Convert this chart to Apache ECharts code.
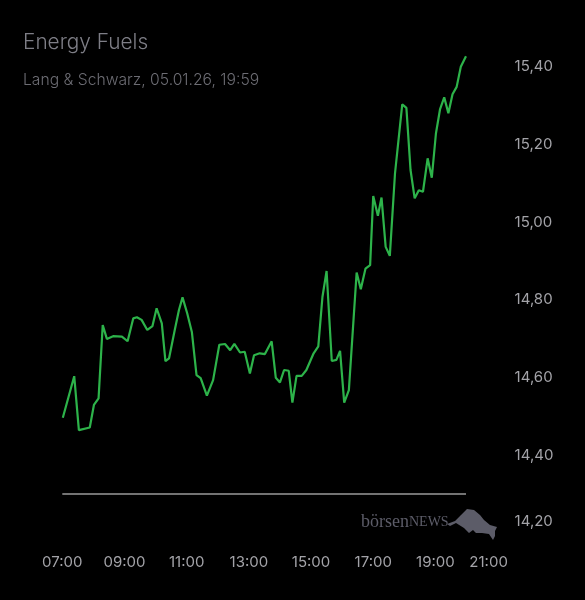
<!DOCTYPE html>
<html>
<head>
<meta charset="utf-8">
<script src="https://cdn.jsdelivr.net/npm/echarts@6/dist/echarts.min.js"></script>
<style>
  html, body { margin: 0; padding: 0; background: #000; }
  #chart { width: 585px; height: 600px; }
</style>
</head>
<body>
<div id="chart"></div>
<script>
// Kursverlauf Energy Fuels (Lang & Schwarz)
const times = [
  "07:01","07:23","07:32","07:53","08:01","08:10","08:18","08:26","08:38","08:55",
  "09:06","09:17","09:24","09:33","09:44","09:54","10:02","10:12","10:19","10:26",
  "10:37","10:45","10:52","11:01","11:10","11:19","11:27","11:39","11:51","12:03",
  "12:14","12:24","12:32","12:43","12:52","13:02","13:10","13:21","13:31","13:44",
  "13:52","14:00","14:08","14:17","14:24","14:32","14:42","14:51","15:05","15:14",
  "15:22","15:30","15:40","15:49","15:56","16:04","16:13","16:28","16:36","16:45",
  "16:54","17:00","17:09","17:16","17:24","17:32","17:42","17:56","18:04","18:12",
  "18:20","18:28","18:36","18:45","18:53","19:01","19:09","19:17","19:25","19:33",
  "19:41","19:49","19:59"
];
const prices = [
  14.496,14.603,14.464,14.471,14.529,14.546,14.735,14.699,14.706,14.705,
  14.693,14.752,14.755,14.748,14.722,14.732,14.778,14.739,14.642,14.649,
  14.722,14.773,14.806,14.765,14.717,14.606,14.598,14.553,14.593,14.684,
  14.686,14.670,14.686,14.664,14.666,14.610,14.657,14.662,14.660,14.693,
  14.599,14.587,14.619,14.617,14.535,14.604,14.604,14.619,14.662,14.680,
  14.807,14.874,14.642,14.645,14.668,14.535,14.567,14.870,14.827,14.880,
  14.889,15.067,15.016,15.063,14.936,14.913,15.125,15.303,15.294,15.134,
  15.061,15.082,15.078,15.164,15.114,15.228,15.291,15.321,15.280,15.329,
  15.348,15.400,15.427
];
const xTicks = ["07:00","09:00","11:00","13:00","15:00","17:00","19:00","21:00"];
const yTicks = [14.2, 14.4, 14.6, 14.8, 15.0, 15.2, 15.4];
const baseValue = 14.3;

// "HH:MM" -> Stunden als Dezimalzahl
const toHours = s => { const p = s.split(":"); return +p[0] + (+p[1]) / 60; };
const seriesData = times.map((t, i) => [toHours(t), prices[i]]);
const xMin = toHours(xTicks[0]);
const xMax = toHours(xTicks[xTicks.length - 1]);

const chart = echarts.init(document.getElementById("chart"));

const option = {
  backgroundColor: "#000",
  animation: false,
  title: {
    text: "Energy Fuels",
    subtext: "Lang & Schwarz, 05.01.26, 19:59",
    left: 23,
    top: 32,
    padding: 0,
    itemGap: 19,
    textStyle: { color: "#7e7e86", fontSize: 20.8, fontWeight: 300, fontFamily: "Inter" },
    subtextStyle: { color: "#6c6c73", fontSize: 15.7, fontWeight: 300, fontFamily: "Inter" }
  },
  grid: { left: 62.3, right: 87.4, top: 66.7, bottom: 67.3 },
  xAxis: {
    type: "value",
    min: xMin,
    max: xMax,
    interval: 2,
    axisLine: { show: false },
    axisTick: { show: false },
    splitLine: { show: false },
    axisLabel: {
      color: "#a3a3a8",
      fontSize: 15,
      fontFamily: "Inter",
      margin: 22,
      formatter: v => {
        const s = (v < 10 ? "0" : "") + v + ":00";
        return v === xMax ? "{e|" + s + "}" : s;
      },
      rich: { e: { color: "#a3a3a8", fontSize: 15, fontFamily: "Inter", padding: [0, 18, 0, 0] } }
    }
  },
  yAxis: {
    type: "value",
    position: "right",
    min: yTicks[0],
    max: yTicks[yTicks.length - 1],
    interval: 0.2,
    axisLine: { show: false },
    axisTick: { show: false },
    splitLine: { show: false },
    axisLabel: {
      color: "#a3a3a8",
      fontSize: 15,
      fontFamily: "Inter",
      margin: 17,
      formatter: v => {
        const s = v.toFixed(2).replace(".", ",");
        return Math.abs(v - yTicks[0]) < 1e-6 ? "{low|" + s + "}" : s;
      },
      rich: { low: { color: "#a3a3a8", fontSize: 15, fontFamily: "Inter", padding: [0, 0, 23, 0] } }
    }
  },
  series: [
    {
      type: "line",
      data: seriesData,
      clip: false,
      showSymbol: false,
      smooth: false,
      lineStyle: { color: "#2db34a", width: 2.2 },
      markLine: {
        silent: true,
        symbol: ["none", "none"],
        label: { show: false },
        lineStyle: { color: "#9a9a9a", width: 1.5, type: "solid" },
        data: [[
          { coord: [xMin, baseValue] },
          { coord: [seriesData[seriesData.length - 1][0], baseValue] }
        ]]
      }
    }
  ],
  graphic: [
    {
      type: "text",
      left: 361,
      top: 513,
      style: {
        text: "{a|börsen}{b|NEWS}",
        rich: {
          a: { fontFamily: "Liberation Serif", fontSize: 18, fill: "#5c5c68" },
          b: { fontFamily: "Liberation Serif", fontSize: 14, fill: "#5c5c68" }
        }
      }
    },
    {
      type: "polygon",
      shape: {
        points: [
          [447, 524], [455, 521], [461, 515], [467, 509], [474, 510], [480, 515],
          [484, 520], [490, 525], [497, 527], [495, 531], [495, 536], [493, 540],
          [489, 534], [482, 533], [476, 533], [473, 530], [469, 533], [464, 528],
          [456, 523], [450, 526]
        ]
      },
      style: { fill: "#5c5c68" }
    }
  ]
};

chart.setOption(option);
</script>
</body>
</html>
